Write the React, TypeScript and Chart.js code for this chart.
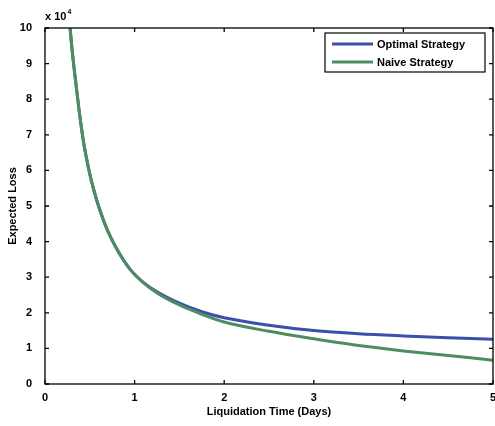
import React, { useEffect, useRef } from "react";
import { Chart, registerables } from "chart.js";

Chart.register(...registerables);

const liqTime = [0.28, 0.3, 0.33, 0.38, 0.43, 0.5, 0.55, 0.6, 0.7, 0.8, 0.95, 1.1, 1.25, 1.5, 1.75, 2.0, 2.5, 3.0, 3.5, 4.0, 4.5, 5.0];
const optimalLoss = [10.0, 9.45, 8.75, 7.7, 6.8, 5.9, 5.4, 4.98, 4.3, 3.8, 3.22, 2.85, 2.59, 2.27, 2.03, 1.86, 1.65, 1.5, 1.41, 1.35, 1.3, 1.26];
const naiveLoss = [10.0, 9.45, 8.75, 7.7, 6.8, 5.9, 5.4, 4.98, 4.3, 3.8, 3.22, 2.84, 2.56, 2.22, 1.96, 1.74, 1.48, 1.27, 1.08, 0.93, 0.8, 0.67];
const xTicks = [0, 1, 2, 3, 4, 5];
const yTicks = [0, 1, 2, 3, 4, 5, 6, 7, 8, 9, 10];
const seriesLabels = ["Optimal Strategy", "Naive Strategy"];
const seriesColors = ["#3a4fae", "#4e8d5f"];
const xTitle = "Liquidation Time (Days)";
const yTitle = "Expected Loss";

const FONT = "'Liberation Sans', Arial, sans-serif";

const framePlugin = {
  id: "matlabFrame",
  afterDraw(chart: any) {
    const ctx = chart.ctx;
    const { left, right, top, bottom } = chart.chartArea;
    const xs = chart.scales.x;
    const ys = chart.scales.y;
    ctx.save();
    ctx.strokeStyle = "#000";
    ctx.lineWidth = 1.3;
    ctx.strokeRect(left, top, right - left, bottom - top);
    const tl = 4;
    ctx.beginPath();
    xTicks.forEach((v) => {
      const px = xs.getPixelForValue(v);
      ctx.moveTo(px, bottom);
      ctx.lineTo(px, bottom - tl);
      ctx.moveTo(px, top);
      ctx.lineTo(px, top + tl);
    });
    yTicks.forEach((v) => {
      const py = ys.getPixelForValue(v);
      ctx.moveTo(left, py);
      ctx.lineTo(left + tl, py);
      ctx.moveTo(right, py);
      ctx.lineTo(right - tl, py);
    });
    ctx.stroke();

    // exponent label
    ctx.fillStyle = "#000";
    ctx.font = `bold 11px ${FONT}`;
    ctx.textBaseline = "alphabetic";
    ctx.textAlign = "left";
    ctx.fillText("x 10", left, top - 8);
    const w = ctx.measureText("x 10").width;
    ctx.font = `bold 7px ${FONT}`;
    ctx.fillText("4", left + w + 1, top - 14);

    // axis titles
    ctx.font = `bold 11px ${FONT}`;
    ctx.textAlign = "center";
    ctx.textBaseline = "middle";
    ctx.fillText(xTitle, (left + right) / 2, 412);
    ctx.save();
    ctx.translate(13, (top + bottom) / 2);
    ctx.rotate(-Math.PI / 2);
    ctx.fillText(yTitle, 0, 0);
    ctx.restore();

    // legend
    const bx = 325, by = 33, bw = 160, bh = 39;
    ctx.fillStyle = "#fff";
    ctx.fillRect(bx, by, bw, bh);
    ctx.strokeStyle = "#000";
    ctx.lineWidth = 1.2;
    ctx.strokeRect(bx, by, bw, bh);
    const rows = [44, 62];
    seriesLabels.forEach((lab, i) => {
      ctx.strokeStyle = seriesColors[i];
      ctx.lineWidth = 3;
      ctx.beginPath();
      ctx.moveTo(332, rows[i]);
      ctx.lineTo(373, rows[i]);
      ctx.stroke();
      ctx.fillStyle = "#000";
      ctx.font = `bold 11px ${FONT}`;
      ctx.textAlign = "left";
      ctx.textBaseline = "middle";
      ctx.fillText(lab, 377, rows[i] + 0.5);
    });
    ctx.restore();
  },
};

export default function App() {
  const ref = useRef<HTMLCanvasElement>(null);
  useEffect(() => {
    document.body.style.margin = "0";
    const canvas = ref.current!;
    const chart = new Chart(canvas, {
      type: "line",
      data: {
        datasets: [
          {
            label: seriesLabels[0],
            data: liqTime.map((x, i) => ({ x, y: optimalLoss[i] })),
            borderColor: seriesColors[0],
            borderWidth: 3,
            pointRadius: 0,
            cubicInterpolationMode: "monotone",
            order: 1,
          },
          {
            label: seriesLabels[1],
            data: liqTime.map((x, i) => ({ x, y: naiveLoss[i] })),
            borderColor: seriesColors[1],
            borderWidth: 3,
            pointRadius: 0,
            cubicInterpolationMode: "monotone",
            order: 0,
          },
        ],
      },
      options: {
        responsive: false,
        animation: false,
        layout: { padding: { top: 28, right: 9, left: 0, bottom: 0 } },
        plugins: { legend: { display: false }, tooltip: { enabled: false } },
        scales: {
          x: {
            type: "linear",
            min: 0,
            max: 5,
            afterBuildTicks: (s: any) => {
              s.ticks = xTicks.map((v) => ({ value: v }));
            },
            afterFit: (s: any) => {
              s.height = 42;
            },
            grid: { display: false },
            border: { display: false },
            ticks: {
              padding: -1,
              color: "#000",
              font: { family: FONT, size: 11, weight: "bold" },
              maxRotation: 0,
            },
          },
          y: {
            type: "linear",
            min: 0,
            max: 10,
            afterBuildTicks: (s: any) => {
              s.ticks = yTicks.map((v) => ({ value: v }));
            },
            afterFit: (s: any) => {
              s.width = 45;
            },
            grid: { display: false },
            border: { display: false },
            ticks: {
              padding: 5,
              color: "#000",
              font: { family: FONT, size: 11, weight: "bold" },
            },
          },
        },
      },
      plugins: [framePlugin],
    });
    return () => chart.destroy();
  }, []);
  return (
    <div style={{ position: "fixed", left: 0, top: 0, width: 495, height: 426, overflow: "hidden", background: "#fff" }}>
      <canvas ref={ref} width={502} height={426} style={{ display: "block" }} />
    </div>
  );
}
